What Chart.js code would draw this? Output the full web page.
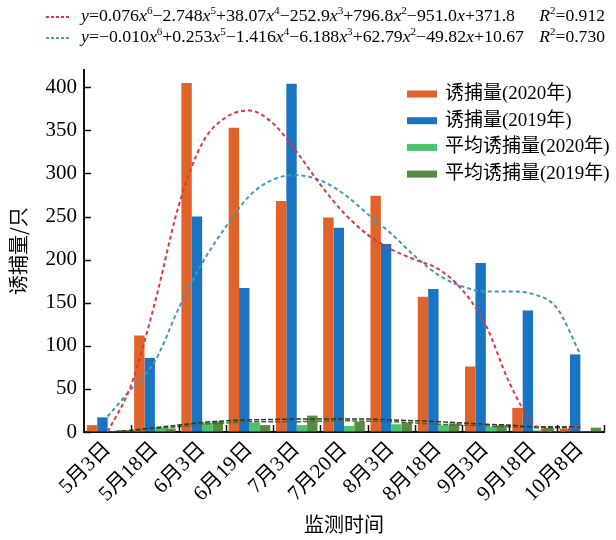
<!DOCTYPE html>
<html>
<head>
<meta charset="utf-8">
<script src="https://cdn.jsdelivr.net/npm/chart.js@4.4.1/dist/chart.umd.min.js"></script>
<style>
  html, body { margin: 0; padding: 0; background: #fff; }
  #wrap { width: 616px; height: 540px; position: relative; }
</style>
</head>
<body>
<div id="wrap"><canvas id="chart"></canvas></div>
<script>
// Monitoring dates (x categories, position 1..11)
const categories = ['5月3日', '5月18日', '6月3日', '6月19日', '7月3日', '7月20日',
    '8月3日', '8月18日', '9月3日', '9月18日', '10月8日'];

// Trap counts per date
const catch2020 = [8, 112, 405, 353, 268, 249, 274, 157, 76, 28, 4];
const catch2019 = [17, 86, 250, 167, 404, 237, 218, 166, 196, 141, 90];
const avg2020 = [1, 5, 11, 11, 8, 7, 9, 8, 6, 2, 1];
const avg2019 = [2, 4, 12, 8, 19, 12, 11, 10, 8, 5, 5];

// Fitted curves at half-date steps (1 = first date)
const fitX = [1, 1.5, 2, 2.5, 3, 3.5, 4, 4.5, 5, 5.5, 6, 6.5, 7, 7.5, 8, 8.5, 9, 9.5, 10, 10.5, 11];
const fit2020 = [0, 55, 150, 262, 335, 365, 373, 358, 325, 287, 254, 229, 212, 200, 189, 165, 124, 57, 10, 0, 8];
const fit2019 = [18, 50, 82, 143, 196, 238, 274, 293, 298, 292, 276, 253, 230, 204, 182, 169, 163, 163, 160, 144, 90];
const fitAvgA = [0, 2, 5, 8, 11, 13, 14, 14.5, 15, 15, 15, 15, 14, 13, 12, 10.5, 9, 8, 6, 6, 6];
const fitAvgB = [0, 1, 4, 6, 9, 10.5, 12, 12, 12, 12.5, 13, 12.5, 12, 10.5, 9, 8, 7, 6, 5, 5, 5];

// Equation captions
const eqLines = [
    { text: 'y=0.076x^6−2.748x^5+38.07x^4−252.9x^3+796.8x^2−951.0x+371.8', r2: 'R^2=0.912', color: '#e0373f', end: 515 },
    { text: 'y=−0.010x^6+0.253x^5−1.416x^4−6.188x^3+62.79x^2−49.82x+10.67', r2: 'R^2=0.730', color: '#4a9cc4', end: 524 }
];

const SERIF = '"Liberation Serif", "Noto Sans CJK SC", serif';
const CJK = '"Noto Sans CJK SC", sans-serif';

const byDate = (ys) => ys.map((v, i) => ({ x: i + 1, y: v }));
const byFitX = (ys) => ys.map((v, i) => ({ x: fitX[i], y: v }));

// text like "x^6": italic variables, small raised exponents
function richWidth(ctx, str, size) {
    let w = 0;
    for (let i = 0; i < str.length; i++) {
        const ch = str[i];
        if (ch === '^') {
            ctx.font = `${Math.round(size * 0.62)}px ${SERIF}`;
            w += ctx.measureText(str[++i]).width;
            continue;
        }
        ctx.font = (/[xyR]/.test(ch) ? 'italic ' : '') + `${size}px ${SERIF}`;
        w += ctx.measureText(ch).width;
    }
    return w;
}

function drawRich(ctx, str, x, y, size) {
    let cx = x;
    for (let i = 0; i < str.length; i++) {
        let ch = str[i];
        if (ch === '^') {
            ctx.font = `${Math.round(size * 0.62)}px ${SERIF}`;
            ch = str[++i];
            ctx.fillText(ch, cx, y - size * 0.38);
            cx += ctx.measureText(ch).width;
            continue;
        }
        ctx.font = (/[xyR]/.test(ch) ? 'italic ' : '') + `${size}px ${SERIF}`;
        ctx.fillText(ch, cx, y);
        cx += ctx.measureText(ch).width;
    }
}

const equations = {
    id: 'equations',
    afterDraw(chart) {
        const ctx = chart.ctx;
        ctx.save();
        ctx.textBaseline = 'middle';
        ctx.fillStyle = '#000';
        eqLines.forEach((line, k) => {
            const y = 17 + k * 21;
            ctx.strokeStyle = line.color;
            ctx.lineWidth = 2;
            ctx.setLineDash([3, 2]);
            ctx.beginPath();
            ctx.moveTo(46, y);
            ctx.lineTo(70, y);
            ctx.stroke();
            ctx.setLineDash([]);

            const size = 16;
            const w = richWidth(ctx, line.text, size);
            ctx.save();
            ctx.translate(81, 0);
            ctx.scale((line.end - 81) / w, 1);
            drawRich(ctx, line.text, 0, y, size);
            ctx.restore();

            const rw = richWidth(ctx, line.r2, size);
            ctx.save();
            ctx.translate(605 - rw * 1.1, 0);
            ctx.scale(1.1, 1);
            drawRich(ctx, line.r2, 0, y, size);
            ctx.restore();
        });
        ctx.restore();
    }
};

// legend in the upper right of the plot
const cornerLegend = {
    id: 'cornerLegend',
    afterDraw(chart) {
        const ctx = chart.ctx;
        ctx.save();
        ctx.textBaseline = 'middle';
        ctx.textAlign = 'left';
        ctx.font = `19px ${SERIF}`;
        chart.data.datasets.slice(0, 4).forEach((ds, i) => {
            const y = 94 + i * 26.7;
            ctx.fillStyle = ds.backgroundColor;
            ctx.fillRect(407, y - 3.5, 30, 7);
            ctx.fillStyle = '#000';
            ctx.fillText(ds.label, 445, y);
        });
        ctx.restore();
    }
};

// tick marks pointing into the plot
const innerTicks = {
    id: 'innerTicks',
    afterDraw(chart) {
        const { ctx, chartArea } = chart;
        const x = chart.scales.x;
        const y = chart.scales.y;
        ctx.save();
        ctx.strokeStyle = '#111';
        ctx.lineWidth = 1.5;
        ctx.beginPath();
        y.ticks.forEach((t, i) => {
            const py = Math.round(y.getPixelForTick(i)) + 0.5;
            ctx.moveTo(chartArea.left, py);
            ctx.lineTo(chartArea.left + 7, py);
        });
        for (let i = 1; i <= categories.length; i++) {
            const px = Math.round(x.getPixelForValue(i + 0.5)) + 0.5;
            ctx.moveTo(px, chartArea.bottom);
            ctx.lineTo(px, chartArea.bottom - 7);
        }
        ctx.stroke();
        ctx.restore();
    }
};

const bars = (label, data, color) => ({
    type: 'bar',
    label,
    data: byDate(data),
    backgroundColor: color,
    categoryPercentage: 0.88,
    barPercentage: 1.0,
    order: 1
});

const fitLine = (label, data, color, width, dash) => ({
    type: 'line',
    label,
    data: byFitX(data),
    borderColor: color,
    backgroundColor: color,
    borderWidth: width,
    borderDash: dash,
    pointRadius: 0,
    fill: false,
    cubicInterpolationMode: 'monotone',
    order: 0
});

new Chart(document.getElementById('chart'), {
    type: 'bar',
    data: {
        datasets: [
            bars('诱捕量(2020年)', catch2020, '#e0642a'),
            bars('诱捕量(2019年)', catch2019, '#1a74c2'),
            bars('平均诱捕量(2020年)', avg2020, '#4dc36b'),
            bars('平均诱捕量(2019年)', avg2019, '#558b42'),
            fitLine('拟合(2020年)', fit2020, '#e0373f', 2, [4, 3]),
            fitLine('拟合(2019年)', fit2019, '#3d97c2', 2, [4, 3]),
            fitLine('平均拟合(2019年)', fitAvgA, '#2c3a24', 1.5, [5, 2]),
            fitLine('平均拟合(2020年)', fitAvgB, '#4a6a38', 1.5, [5, 2])
        ]
    },
    options: {
        responsive: true,
        maintainAspectRatio: false,
        animation: false,
        layout: { padding: { top: 70, right: 12, left: 0, bottom: 0 } },
        plugins: {
            legend: { display: false },
            tooltip: { enabled: false }
        },
        scales: {
            x: {
                type: 'linear',
                min: 0.5,
                max: 11.5,
                offset: false,
                grid: { drawOnChartArea: false, drawTicks: false, color: 'rgba(0,0,0,0)' },
                border: { display: true, color: '#111', width: 2 },
                afterBuildTicks(scale) {
                    scale.ticks = categories.map((c, i) => ({ value: i + 1 }));
                },
                ticks: {
                    color: '#000',
                    font: { family: SERIF, size: 21 },
                    maxRotation: 45,
                    minRotation: 45,
                    padding: 5,
                    autoSkip: false,
                    callback: (v) => categories[Math.round(v) - 1]
                },
                title: {
                    display: true,
                    text: '监测时间',
                    color: '#000',
                    font: { family: CJK, size: 20 },
                    padding: { top: 0, bottom: 4 }
                },
                afterFit(scale) { scale.height = 108; }
            },
            y: {
                min: 0,
                max: 420,
                grid: { drawOnChartArea: false, drawTicks: false, color: 'rgba(0,0,0,0)' },
                border: { display: true, color: '#111', width: 2 },
                ticks: {
                    stepSize: 50,
                    includeBounds: false,
                    color: '#000',
                    font: { family: SERIF, size: 21 },
                    padding: 7
                },
                title: {
                    display: true,
                    text: '诱捕量/只',
                    color: '#000',
                    font: { family: CJK, size: 20 },
                    padding: { top: 6, bottom: 0 }
                },
                afterFit(scale) { scale.width = 84; }
            }
        }
    },
    plugins: [innerTicks, cornerLegend, equations]
});
</script>
</body>
</html>
